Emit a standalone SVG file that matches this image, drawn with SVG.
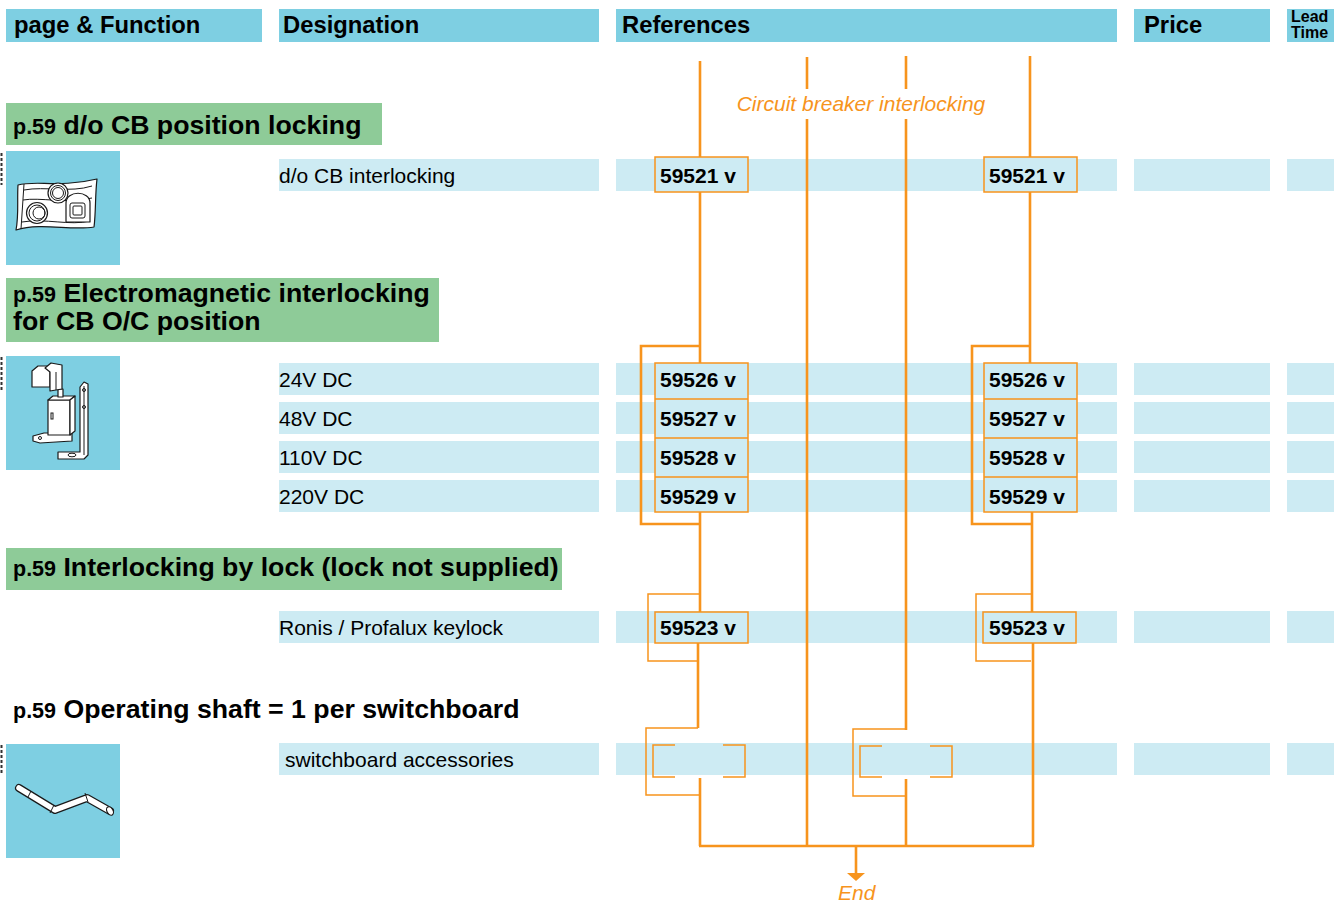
<svg xmlns="http://www.w3.org/2000/svg" width="1334" height="903" viewBox="0 0 1334 903">
  <defs>
    <style>
      .hdr { fill: #7ecfe2; }
      .row { fill: #cdebf3; }
      .sec { fill: #8ecb98; }
      .pic { fill: #7ecfe2; }
      .ht { font-family: "Liberation Sans", Arial, sans-serif; font-weight: bold; font-size: 23.8px; fill: #000; }
      .lt { font-family: "Liberation Sans", Arial, sans-serif; font-weight: bold; font-size: 16px; fill: #000; }
      .st { font-family: "Liberation Sans", Arial, sans-serif; font-weight: bold; font-size: 26.7px; fill: #000; }
      .pg { font-size: 21.5px; }
      .dt { font-family: "Liberation Sans", Arial, sans-serif; font-size: 21px; fill: #000; }
      .rt { font-family: "Liberation Sans", Arial, sans-serif; font-weight: bold; font-size: 21px; fill: #000; }
      .ot { font-family: "Liberation Sans", Arial, sans-serif; font-style: italic; font-size: 21px; fill: #f7941d; }
      .ref { fill: #cdebf3; stroke: #f7941d; stroke-width: 1.5; }
      .main { fill: none; stroke: #f7941d; stroke-width: 2.6; }
      .thin { fill: none; stroke: #f7941d; stroke-width: 1.5; }
      .ink { fill: #fff; stroke: #1a1a1a; stroke-width: 1.2; stroke-linejoin: round; }
      .inkl { fill: none; stroke: #1a1a1a; stroke-width: 1; }
      .edge { stroke: #333; stroke-width: 2; stroke-dasharray: 3 2; }
    </style>
  </defs>

  <rect width="1334" height="903" fill="#fff"/>

  <!-- column headers -->
  <g id="header">
    <rect class="hdr" x="6" y="9" width="256" height="33"/>
    <rect class="hdr" x="279" y="9" width="320" height="33"/>
    <rect class="hdr" x="616" y="9" width="501" height="33"/>
    <rect class="hdr" x="1134" y="9" width="136" height="33"/>
    <rect class="hdr" x="1287" y="9" width="47" height="33"/>
    <text class="ht" x="14" y="33">page &amp; Function</text>
    <text class="ht" x="283" y="33">Designation</text>
    <text class="ht" x="622" y="33">References</text>
    <text class="ht" x="1144" y="33">Price</text>
    <text class="lt" x="1291" y="22">Lead</text>
    <text class="lt" x="1291" y="38">Time</text>
  </g>

  <!-- table rows -->
  <g id="rows">
    <g id="row-521">
      <rect class="row" x="279" y="159" width="320" height="32"/>
      <rect class="row" x="616" y="159" width="501" height="32"/>
      <rect class="row" x="1134" y="159" width="136" height="32"/>
      <rect class="row" x="1287" y="159" width="47" height="32"/>
    </g>
    <g id="row-526">
      <rect class="row" x="279" y="363" width="320" height="32"/>
      <rect class="row" x="616" y="363" width="501" height="32"/>
      <rect class="row" x="1134" y="363" width="136" height="32"/>
      <rect class="row" x="1287" y="363" width="47" height="32"/>
    </g>
    <g id="row-527">
      <rect class="row" x="279" y="402" width="320" height="32"/>
      <rect class="row" x="616" y="402" width="501" height="32"/>
      <rect class="row" x="1134" y="402" width="136" height="32"/>
      <rect class="row" x="1287" y="402" width="47" height="32"/>
    </g>
    <g id="row-528">
      <rect class="row" x="279" y="441" width="320" height="32"/>
      <rect class="row" x="616" y="441" width="501" height="32"/>
      <rect class="row" x="1134" y="441" width="136" height="32"/>
      <rect class="row" x="1287" y="441" width="47" height="32"/>
    </g>
    <g id="row-529">
      <rect class="row" x="279" y="480" width="320" height="32"/>
      <rect class="row" x="616" y="480" width="501" height="32"/>
      <rect class="row" x="1134" y="480" width="136" height="32"/>
      <rect class="row" x="1287" y="480" width="47" height="32"/>
    </g>
    <g id="row-523">
      <rect class="row" x="279" y="611" width="320" height="32"/>
      <rect class="row" x="616" y="611" width="501" height="32"/>
      <rect class="row" x="1134" y="611" width="136" height="32"/>
      <rect class="row" x="1287" y="611" width="47" height="32"/>
    </g>
    <g id="row-acc">
      <rect class="row" x="279" y="743" width="320" height="32"/>
      <rect class="row" x="616" y="743" width="501" height="32"/>
      <rect class="row" x="1134" y="743" width="136" height="32"/>
      <rect class="row" x="1287" y="743" width="47" height="32"/>
    </g>
    <text class="dt" x="279" y="183">d/o CB interlocking</text>
    <text class="dt" x="279" y="387">24V DC</text>
    <text class="dt" x="279" y="426">48V DC</text>
    <text class="dt" x="279" y="465">110V DC</text>
    <text class="dt" x="279" y="504">220V DC</text>
    <text class="dt" x="279" y="635">Ronis / Profalux keylock</text>
    <text class="dt" x="285" y="767">switchboard accessories</text>
  </g>

  <!-- section titles -->
  <g id="sec-position-locking">
    <rect class="sec" x="6" y="103" width="376" height="42"/>
    <text class="st" x="13" y="134"><tspan class="pg">p.59</tspan> d/o CB position locking</text>
  </g>
  <g id="sec-electromagnetic">
    <rect class="sec" x="6" y="278" width="433" height="64"/>
    <text class="st" x="13" y="302"><tspan class="pg">p.59</tspan> Electromagnetic interlocking</text>
    <text class="st" x="13" y="330">for CB O/C position</text>
  </g>
  <g id="sec-lock">
    <rect class="sec" x="6" y="548" width="556" height="42"/>
    <text class="st" x="13" y="576"><tspan class="pg">p.59</tspan> Interlocking by lock (lock not supplied)</text>
  </g>
  <g id="sec-shaft">
    <text class="st" x="13" y="718"><tspan class="pg">p.59</tspan> Operating shaft = 1 per switchboard</text>
  </g>

  <!-- product pictures -->
  <g id="pic-interlocking-plate">
    <line class="edge" x1="1.5" y1="153" x2="1.5" y2="185"/>
    <rect class="pic" x="6" y="151" width="114" height="114"/>
    <path class="ink" d="M18 185 C 35 180, 60 188, 97 179 C 95 195, 96 212, 94 227 C 70 231, 42 222, 16 230 C 19 215, 17 200, 18 185 Z"/>
    <path class="inkl" d="M24 190 C 45 186, 70 193, 92 186 M23 200 C 40 197, 65 204, 92 198 M22 222 C 45 218, 70 226, 90 221"/>
    <line class="inkl" x1="24" y1="184" x2="21" y2="229"/>
    <circle class="ink" cx="58" cy="193" r="10"/>
    <circle class="inkl" cx="58" cy="193" r="7.5"/>
    <circle class="inkl" cx="58" cy="193" r="5.5"/>
    <circle class="ink" cx="37" cy="213" r="10.5"/>
    <circle class="inkl" cx="37" cy="213" r="8"/>
    <circle class="inkl" cx="39" cy="213" r="6"/>
    <path class="ink" d="M66 222 V203 C 66 190, 90 190, 90 203 V222 Z"/>
    <rect class="inkl" x="70" y="203" width="15" height="15" rx="2"/>
    <rect class="inkl" x="73" y="206" width="9" height="9" rx="1"/>
  </g>

  <g id="pic-solenoid">
    <line class="edge" x1="1.5" y1="357" x2="1.5" y2="390"/>
    <rect class="pic" x="6" y="356" width="114" height="114"/>
    <path class="ink" d="M80 387 L84 382 L88 384 L88 455 L84 459 L58 459 L58 452 L80 452 Z"/>
    <line class="inkl" x1="84" y1="386" x2="84" y2="455"/>
    <circle class="inkl" cx="84" cy="390" r="1.5"/>
    <circle class="inkl" cx="84" cy="407" r="1.5"/>
    <ellipse class="inkl" cx="72" cy="455" rx="4" ry="1.8"/>
    <path class="ink" d="M33 436 L44 433 L72 433 L72 441 L40 443 L33 441 Z"/>
    <circle class="inkl" cx="40" cy="438" r="1.5"/>
    <rect class="ink" x="48" y="400" width="22" height="35"/>
    <path class="ink" d="M48 400 L53 396 L75 396 L70 400 Z"/>
    <path class="ink" d="M70 400 L75 396 L75 431 L70 435 Z"/>
    <rect class="inkl" x="51" y="413" width="2" height="6"/>
    <rect class="ink" x="58" y="389" width="5" height="8"/>
    <path class="ink" d="M32 371 L38 366 L50 366 L50 387 L32 387 Z"/>
    <path class="ink" d="M45 368 L51 363 L62 365 L62 389 L50 391 L50 372 Z"/>
    <line class="inkl" x1="56" y1="372" x2="56" y2="390"/>
  </g>

  <g id="pic-shaft">
    <line class="edge" x1="1.5" y1="745" x2="1.5" y2="775"/>
    <rect class="pic" x="6" y="744" width="114" height="114"/>
    <polyline points="19,788 55,810 87,798 110,811" fill="none" stroke="#1a1a1a" stroke-width="8" stroke-linejoin="round" stroke-linecap="round"/>
    <polyline points="19,788 55,810 87,798 110,811" fill="none" stroke="#fff" stroke-width="5.5" stroke-linejoin="round" stroke-linecap="round"/>
    <line class="inkl" x1="31" y1="791" x2="28" y2="797"/>
    <line class="inkl" x1="54" y1="805" x2="50" y2="813"/>
    <line class="inkl" x1="85" y1="793" x2="88" y2="802"/>
    <ellipse class="ink" cx="110" cy="811" rx="3" ry="4.5" transform="rotate(-30 110 811)"/>
  </g>

  <!-- connectors -->
  <g id="connectors">
    <!-- left chain -->
    <path class="main" d="M700 61 V157"/>
    <path class="main" d="M700 192 V363 M700 346 H641 V524 H700"/>
    <path class="main" d="M700 512 V612"/>
    <path class="thin" d="M700 594 H648 V661 H697"/>
    <path class="main" d="M698 643 V728"/>
    <path class="thin" d="M698 728 H646 V795 H700"/>
    <path class="thin" d="M675 745 H653 V777 H675 M723 745 H745 V777 H723"/>
    <path class="main" d="M700 778 V846"/>
    <!-- middle lines -->
    <path class="main" d="M807 57 V89 M807 119 V846"/>
    <path class="main" d="M906 56 V89 M906 119 V730"/>
    <path class="thin" d="M906 729 H853 V796 H906"/>
    <path class="thin" d="M882 746 H860 V777 H882 M930 746 H952 V777 H930"/>
    <path class="main" d="M906 779 V846"/>
    <!-- right chain -->
    <path class="main" d="M1030 56 V157"/>
    <path class="main" d="M1030 192 V363 M1030 346 H972 V524 H1032"/>
    <path class="main" d="M1032 512 V612"/>
    <path class="thin" d="M1032 594 H976 V661 H1031"/>
    <path class="main" d="M1033 643 V846"/>
    <!-- collector and exit -->
    <path class="main" d="M699 846 H1034"/>
    <path class="main" d="M856 846 V873"/>
    <polygon points="847,873 865,873 856,881" fill="#f7941d"/>
    <text class="ot" x="861" y="111" text-anchor="middle">Circuit breaker interlocking</text>
    <text class="ot" x="838" y="900">End</text>
  </g>

  <!-- reference boxes -->
  <g id="ref-59521-a">
    <rect class="ref" x="655" y="157" width="93" height="35"/>
    <text class="rt" x="660" y="183">59521 v</text>
  </g>
  <g id="ref-59521-b">
    <rect class="ref" x="984" y="157" width="93" height="35"/>
    <text class="rt" x="989" y="183">59521 v</text>
  </g>
  <g id="ref-5952x-a">
    <rect class="ref" x="655" y="363" width="93" height="149"/>
    <path class="thin" d="M655 399 H748 M655 438 H748 M655 477 H748"/>
    <text class="rt" x="660" y="387">59526 v</text>
    <text class="rt" x="660" y="426">59527 v</text>
    <text class="rt" x="660" y="465">59528 v</text>
    <text class="rt" x="660" y="504">59529 v</text>
  </g>
  <g id="ref-5952x-b">
    <rect class="ref" x="984" y="363" width="93" height="149"/>
    <path class="thin" d="M984 399 H1077 M984 438 H1077 M984 477 H1077"/>
    <text class="rt" x="989" y="387">59526 v</text>
    <text class="rt" x="989" y="426">59527 v</text>
    <text class="rt" x="989" y="465">59528 v</text>
    <text class="rt" x="989" y="504">59529 v</text>
  </g>
  <g id="ref-59523-a">
    <rect class="ref" x="655" y="612" width="93" height="31"/>
    <text class="rt" x="660" y="635">59523 v</text>
  </g>
  <g id="ref-59523-b">
    <rect class="ref" x="983" y="612" width="93" height="31"/>
    <text class="rt" x="989" y="635">59523 v</text>
  </g>
</svg>
